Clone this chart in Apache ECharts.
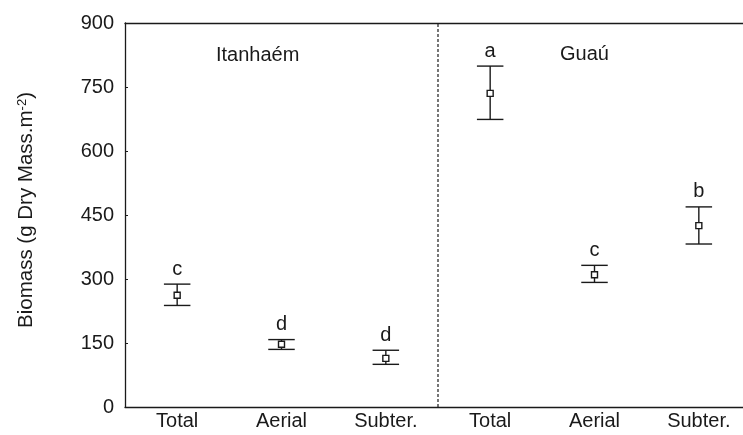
<!DOCTYPE html>
<html>
<head>
<meta charset="utf-8">
<script src="https://cdn.jsdelivr.net/npm/echarts@6/dist/echarts.min.js"></script>
<style>
  html, body { margin: 0; padding: 0; background: #fff; }
  #chart { width: 743px; height: 435px; }
</style>
</head>
<body>
<div id="chart"></div>
<script>
// Biomass by fraction at two sites (mean with error range and group letters)
const categories = ['Total', 'Aerial', 'Subter.', 'Total', 'Aerial', 'Subter.'];
const means   = [262, 147, 114, 735, 310, 425];
const lowers  = [238, 135, 100, 674, 292, 382];
const uppers  = [288, 158, 133, 799, 332, 469];
const letters = ['c', 'd', 'd', 'a', 'c', 'b'];
const sites = ['Itanhaém', 'Guaú'];
const siteSize = 3; // categories per site
const yTicks = { min: 0, max: 900, interval: 150 };

const FONT = 'Liberation Sans, Arial, Helvetica, sans-serif';
const INK = '#1a1a1a';

const barData = categories.map((c, i) => [i, means[i], lowers[i], uppers[i], letters[i]]);
const meanData = categories.map((c, i) => [i, means[i]]);
// separator between the two sites, on a plain 0..n scale that shares the grid
const separatorData = [[siteSize, yTicks.min], [siteSize, yTicks.max]];

const chart = echarts.init(document.getElementById('chart'), null, { renderer: 'canvas' });

chart.setOption({
  animation: false,
  backgroundColor: '#fff',
  textStyle: { fontFamily: FONT, color: INK },
  grid: { left: 125, top: 23, width: 626, height: 384, outerBoundsMode: 'none' },
  xAxis: [
    {
      type: 'category',
      data: categories,
      position: 'bottom',
      axisLine: { lineStyle: { color: INK, width: 1.3 } },
      axisTick: { inside: true, length: 3, lineStyle: { color: INK, width: 1 } },
      axisLabel: { color: INK, fontSize: 20, fontFamily: FONT, margin: 4, interval: 0 },
      splitLine: { show: false }
    },
    {
      type: 'category',
      data: categories,
      position: 'top',
      axisLine: { lineStyle: { color: INK, width: 1.3 } },
      axisTick: { inside: true, length: 3, lineStyle: { color: INK, width: 1 } },
      axisLabel: { show: false },
      splitLine: { show: false }
    },
    {
      type: 'value',
      min: 0,
      max: categories.length,
      show: false
    }
  ],
  yAxis: {
    type: 'value',
    min: yTicks.min,
    max: yTicks.max,
    interval: yTicks.interval,
    axisLine: { show: true, lineStyle: { color: INK, width: 1.3 } },
    axisTick: { show: true, inside: true, length: 3, lineStyle: { color: INK, width: 1 } },
    axisLabel: { color: INK, fontSize: 20, fontFamily: FONT, margin: 11 },
    splitLine: { show: false },
    name: 'Biomass (g Dry Mass.m{sup|-2})',
    nameLocation: 'middle',
    nameRotate: 90,
    nameGap: 88,
    nameTextStyle: {
      color: INK,
      fontSize: 20.5,
      fontFamily: FONT,
      padding: [0, 0, 0, 10],
      rich: {
        sup: { fontSize: 13, fontFamily: FONT, color: INK, verticalAlign: 'top' }
      }
    }
  },
  graphic: [
    {
      type: 'text', left: 216, top: 45,
      style: { text: sites[0], font: '20px ' + FONT, fill: INK }
    },
    {
      type: 'text', left: 560, top: 44,
      style: { text: sites[1], font: '20px ' + FONT, fill: INK }
    }
  ],
  series: [
    {
      type: 'line',
      xAxisIndex: 2,
      data: separatorData,
      symbol: 'none',
      silent: true,
      lineStyle: { color: INK, width: 1.2, type: [3, 2] },
      z: 1
    },
    {
      type: 'custom',
      xAxisIndex: 0,
      data: barData,
      encode: { x: 0, y: [1, 2, 3] },
      renderItem: function (params, api) {
        const x = api.value(0);
        const lo = api.coord([x, api.value(2)]);
        const hi = api.coord([x, api.value(3)]);
        const half = api.size([1, 0])[0] * 0.127;
        const st = { stroke: INK, lineWidth: 1.4 };
        return {
          type: 'group',
          children: [
            { type: 'line', shape: { x1: hi[0], y1: hi[1], x2: lo[0], y2: lo[1] }, style: st },
            { type: 'line', shape: { x1: hi[0] - half, y1: hi[1], x2: hi[0] + half, y2: hi[1] }, style: st },
            { type: 'line', shape: { x1: lo[0] - half, y1: lo[1], x2: lo[0] + half, y2: lo[1] }, style: st },
            {
              type: 'text',
              x: hi[0], y: hi[1] - 15,
              style: {
                text: letters[params.dataIndex],
                font: '20px ' + FONT,
                fill: INK,
                align: 'center',
                verticalAlign: 'middle'
              }
            }
          ]
        };
      },
      z: 2
    },
    {
      type: 'scatter',
      xAxisIndex: 0,
      data: meanData,
      symbol: 'rect',
      symbolSize: 6,
      itemStyle: { color: '#fff', borderColor: INK, borderWidth: 1.4, opacity: 1 },
      z: 3
    }
  ]
});
</script>
</body>
</html>
